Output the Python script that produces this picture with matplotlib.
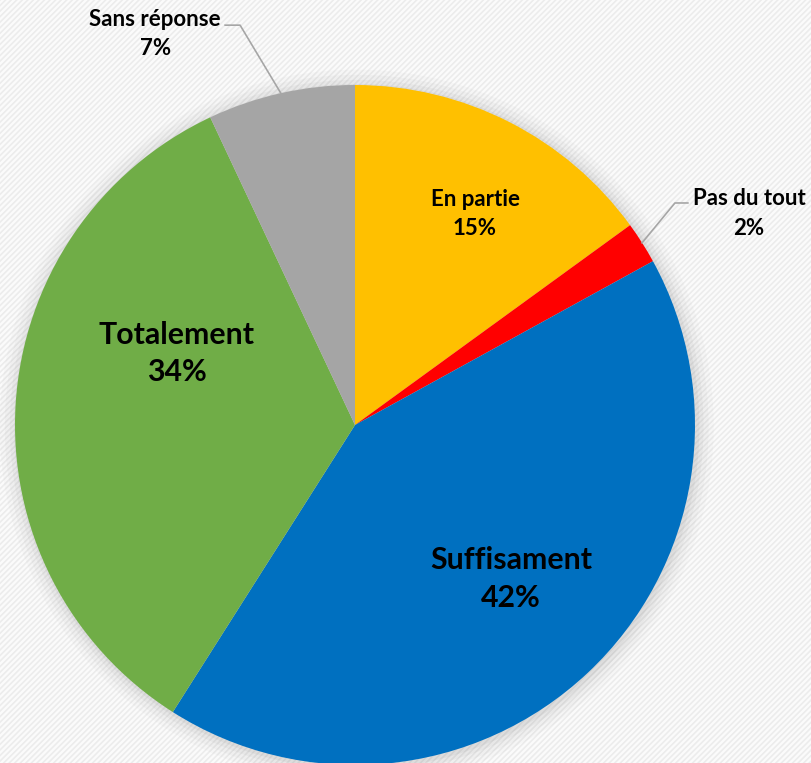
import matplotlib
matplotlib.use("Agg")
import matplotlib.pyplot as plt
import numpy as np
from matplotlib.patches import Circle, Rectangle

categories = ["En partie", "Pas du tout", "Suffisament", "Totalement", "Sans réponse"]
values = [15, 2, 42, 34, 7]
colors = ["#FFC000", "#FF0000", "#0070C0", "#70AD47", "#A5A5A5"]

plt.rcParams['font.family'] = ['Lato', 'DejaVu Sans']

fig = plt.figure(figsize=(8.12, 7.63), dpi=100)
fig.patch.set_facecolor("white")
ax = fig.add_axes([0, 0, 1, 1])

# background hatch pattern
plt.rcParams['hatch.color'] = '#ececec'
plt.rcParams['hatch.linewidth'] = 1.2
bg = Rectangle((-2, -2), 4, 4, facecolor='#fbfbfb', edgecolor='#ececec', hatch='//////', lw=0, zorder=0)
ax.add_patch(bg)

# soft shadow
for r, a in [(1.05, 0.04), (1.035, 0.05), (1.02, 0.07), (1.008, 0.09)]:
    ax.add_patch(Circle((0.005, -0.005), r, color='#808080', alpha=a, lw=0, zorder=1))

wedges, _ = ax.pie(values, colors=colors, startangle=90, counterclock=False,
                   radius=1.0, center=(0, 0), frame=True,
                   wedgeprops=dict(linewidth=0, zorder=2))
ax.set_xlim(-355/340, (812-355)/340)
ax.set_ylim(-(763-425)/340, 425/340)
ax.set_aspect('auto')
ax.axis('off')

def mid_pt(i, r=1.0):
    w = wedges[i]
    ang = np.deg2rad((w.theta1 + w.theta2) / 2)
    return r*np.cos(ang), r*np.sin(ang)

big = dict(fontsize=21.8, fontweight='bold', ha='center', va='center', linespacing=1.42, color='black', zorder=5)
small = dict(fontsize=16, fontweight='bold', ha='center', va='center', linespacing=1.5, color='black', zorder=5)

ax.text(0.353, 0.62, f"{categories[0]}\n{values[0]}%", **small)
ax.text(0.459, -0.453, f"{categories[2]}\n{values[2]}%", **big)
ax.text(-0.524, 0.21, f"{categories[3]}\n{values[3]}%", **big)
ax.text(1.159, 0.622, f"{categories[1]}\n{values[1]}%", **small)
ax.text(-0.588, 1.15, f"{categories[4]}\n{values[4]}%", **small)

# leader lines
x0, y0 = mid_pt(1)
ax.plot([x0, 0.941, 0.979], [y0, 0.653, 0.653], color='#a6a6a6', lw=1.2, zorder=4)
x0, y0 = mid_pt(4)
ax.plot([x0, -0.338, -0.382], [y0, 1.176, 1.176], color='#a6a6a6', lw=1.2, zorder=4)

fig.savefig("out.png", dpi=100)
